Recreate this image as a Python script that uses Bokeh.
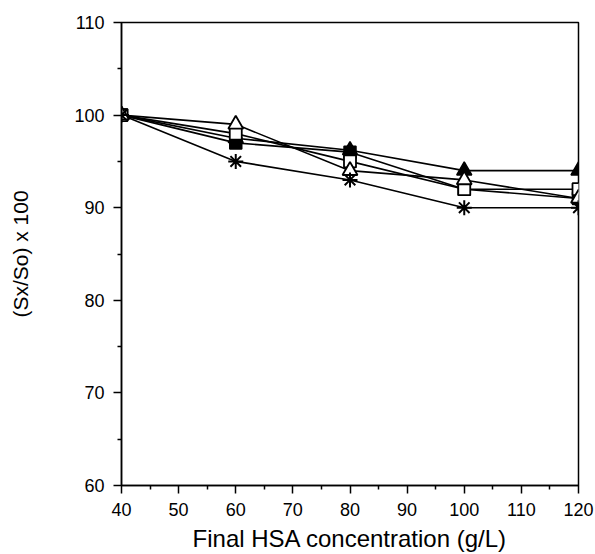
from bokeh.plotting import figure
from bokeh.models import Range1d, FixedTicker
from bokeh.embed import file_html
from bokeh.resources import INLINE

# Data
hsa = [40, 60, 80, 100, 120]
filled_triangle = [100, 97.5, 96.2, 94, 94]
filled_square = [100, 97, 96, 92, 91]
open_square = [100, 98, 95, 92, 92]
open_triangle = [100, 99, 94, 93, 91]
asterisk = [100, 95, 93, 90, 90]

x_ticks = [40, 50, 60, 70, 80, 90, 100, 110, 120]
y_ticks = [60, 70, 80, 90, 100, 110]

FONT = "Liberation Sans"

p = figure(
    frame_width=457, frame_height=463,
    min_border_left=121, min_border_top=22, min_border_right=16, min_border_bottom=60,
    x_range=Range1d(40, 120), y_range=Range1d(60, 110),
    output_backend="svg", toolbar_location=None,
    background_fill_color="white", border_fill_color="white",
)
p.xgrid.visible = False
p.ygrid.visible = False
p.outline_line_color = "black"
p.outline_line_width = 1.5
p.outline_line_alpha = 1

for ax, ticks in ((p.xaxis[0], x_ticks), (p.yaxis[0], y_ticks)):
    ax.ticker = FixedTicker(ticks=ticks, minor_ticks=[t + 5 for t in ticks[:-1]])
    ax.axis_line_color = "black"
    ax.axis_line_width = 1.5
    ax.major_tick_line_color = "black"
    ax.major_tick_line_width = 1.5
    ax.minor_tick_line_color = "black"
    ax.minor_tick_line_width = 1.5
    ax.major_tick_in = 0
    ax.major_tick_out = 8
    ax.minor_tick_in = 0
    ax.minor_tick_out = 4
    ax.major_label_text_font = FONT
    ax.major_label_text_font_size = "18px"
    ax.major_label_text_color = "black"
    ax.axis_label_text_font = FONT
    ax.axis_label_text_font_style = "normal"
    ax.axis_label_text_color = "black"

p.xaxis.axis_label = "Final HSA concentration (g/L)"
p.xaxis.axis_label_text_font_size = "24px"
p.xaxis.major_label_standoff = 9
p.xaxis.axis_label_standoff = 6
p.yaxis.axis_label = "(Sx/So) x 100"
p.yaxis.axis_label_text_font_size = "21px"
p.yaxis.major_label_standoff = 9
p.yaxis.axis_label_standoff = 39

LW = 1.6
p.line(hsa, filled_triangle, line_color="black", line_width=LW)
p.line(hsa, filled_square, line_color="black", line_width=LW)
p.line(hsa, open_square, line_color="black", line_width=LW)
p.line(hsa, open_triangle, line_color="black", line_width=LW)
p.line(hsa, asterisk, line_color="black", line_width=LW)

p.scatter(hsa, filled_triangle, marker="triangle", size=15, fill_color="black", line_color="black", line_width=1.5)
p.scatter(hsa, filled_square, marker="square", size=12, fill_color="black", line_color="black", line_width=1.5)
p.scatter(hsa, open_square, marker="square", size=12, fill_color="white", line_color="black", line_width=1.8)
p.scatter(hsa, open_triangle, marker="triangle", size=15, fill_color="white", line_color="black", line_width=1.8)
p.scatter(hsa, asterisk, marker="asterisk", size=15, line_color="black", line_width=2)

open("out.html", "w").write(file_html(p, INLINE))
